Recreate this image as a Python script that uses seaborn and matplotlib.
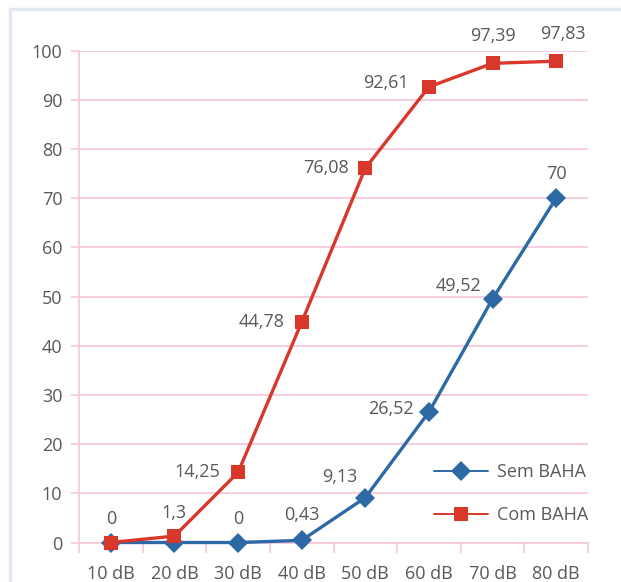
import matplotlib
matplotlib.use("Agg")
import matplotlib.pyplot as plt
from matplotlib.patches import Rectangle
import seaborn as sns
import pandas as pd
import numpy as np

categories = ["10 dB", "20 dB", "30 dB", "40 dB", "50 dB", "60 dB", "70 dB", "80 dB"]
sem_baha = [0, 0, 0, 0.43, 9.13, 26.52, 49.52, 70]
com_baha = [0, 1.3, 14.25, 44.78, 76.08, 92.61, 97.39, 97.83]
y_ticks = [0, 10, 20, 30, 40, 50, 60, 70, 80, 90, 100]

BLUE = "#2c69a5"
RED = "#d9372a"
GRID = "#f7c5dc"
TEXT = "#595959"
FS = 13

sns.set_theme(style="white")
plt.rcParams["font.family"] = ["Open Sans", "DejaVu Sans"]

fig = plt.figure(figsize=(6.21, 5.82), dpi=100)
ax = fig.add_axes([79 / 621, 39.5 / 582, 509 / 621, 492 / 582])

x = np.arange(len(categories))
df = pd.DataFrame({
    "pos": np.concatenate([x, x]),
    "valor": sem_baha + com_baha,
    "serie": ["Sem BAHA"] * len(x) + ["Com BAHA"] * len(x),
})

sns.lineplot(data=df, x="pos", y="valor", hue="serie", style="serie",
             markers={"Sem BAHA": "D", "Com BAHA": "s"}, dashes=False,
             palette={"Sem BAHA": BLUE, "Com BAHA": RED},
             markersize=10.5, linewidth=2.4, markeredgewidth=0,
             ax=ax, legend=True, zorder=3)
for ln in ax.lines:
    ln.set_clip_on(False)
    if ln.get_marker() == "s":
        ln.set_markersize(10.2)

# value labels: (series, index, horizontal alignment, dx px, dy px)
label_offsets = [
    ("com", 0, "center", 0, 24), ("com", 1, "center", 0, 23),
    ("com", 2, "right", -18, 0), ("com", 3, "right", -17, 0),
    ("com", 4, "right", -17, 0), ("com", 5, "right", -20, 4),
    ("com", 6, "center", 0, 27), ("com", 7, "center", 7, 27),
    ("sem", 2, "center", 0, 24), ("sem", 3, "center", 0, 25),
    ("sem", 4, "right", -8, 21), ("sem", 5, "right", -15, 3),
    ("sem", 6, "right", -11, 13), ("sem", 7, "center", 0, 24),
]
for s, i, ha, dx, dy in label_offsets:
    v = com_baha[i] if s == "com" else sem_baha[i]
    txt = f"{v:g}".replace(".", ",")
    ax.annotate(txt, (x[i], v), xytext=(dx, dy), textcoords="offset pixels",
                ha=ha, va="center", fontsize=FS, color=TEXT)

ax.set_xlim(-0.5, len(categories) - 0.5)
ax.set_ylim(0, 100)
ax.set_yticks(y_ticks)
ax.set_xticks(x)
ax.set_xticklabels(categories)
ax.set_xticks(np.arange(-0.5, len(categories)), minor=True)
ax.set_xlabel("")
ax.set_ylabel("")

ax.yaxis.grid(True, color=GRID, linewidth=1.2)
ax.xaxis.grid(False)
for side in ["top", "right"]:
    ax.spines[side].set_visible(False)
for side in ["left", "bottom"]:
    ax.spines[side].set_color(GRID)
    ax.spines[side].set_linewidth(1.2)

ax.tick_params(axis="y", which="major", length=6, width=1.2, color=GRID,
               labelsize=FS, labelcolor=TEXT, pad=6, left=True)
ax.tick_params(axis="x", which="major", length=0, labelsize=FS,
               labelcolor=TEXT, pad=16)
ax.tick_params(axis="x", which="minor", length=7, width=1.2, color=GRID,
               bottom=True)

leg = ax.legend(loc="lower right", bbox_to_anchor=(1.0, 0.037), frameon=False,
                fontsize=FS, handlelength=2.95, labelspacing=1.4,
                borderaxespad=0.0, borderpad=0.0, handletextpad=0.5)
for t in leg.get_texts():
    t.set_color(TEXT)
for h in leg.legend_handles:
    h.set_linewidth(1.4)

fig.patches.append(Rectangle((10 / 621, -0.05), 1.2, 0.05 + 573 / 582,
                             transform=fig.transFigure, fill=False,
                             edgecolor="#e3e8f3", linewidth=2.5))

fig.savefig("out.png", dpi=100)
